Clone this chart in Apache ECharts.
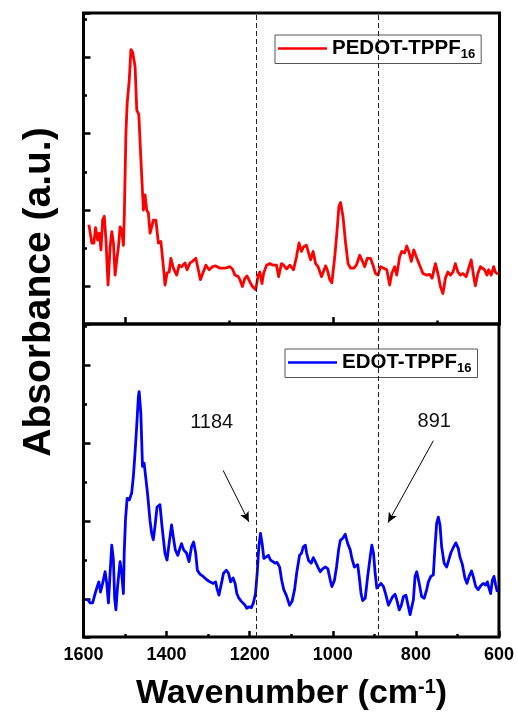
<!DOCTYPE html>
<html>
<head>
<meta charset="utf-8">
<script src="https://cdn.jsdelivr.net/npm/echarts@6/dist/echarts.min.js"></script>
<style>
  html, body { margin: 0; padding: 0; background: #ffffff; }
  #chart { width: 517px; height: 723px; }
</style>
</head>
<body>
<div id="chart"></div>
<script>
// FTIR spectra, wavenumber (cm-1) vs absorbance (arbitrary units)
const pedotWavenumber = [1587,1580,1575,1571,1566,1562,1558,1554,1550,1546,1541,1536,1532,1528,1524,1520,1516,1512,1508,1504,1502,1498,1495,1490,1486,1482,1476,1472,1467,1462,1456,1452,1448,1444,1440,1436,1432,1426,1420,1414,1408,1404,1399,1394,1390,1384,1376,1370,1364,1356,1351,1344,1338,1330,1324,1319,1312,1306,1298,1290,1282,1272,1260,1248,1242,1236,1228,1224,1218,1212,1207,1200,1194,1186,1180,1176,1171,1167,1160,1152,1144,1136,1131,1124,1119,1112,1104,1095,1088,1082,1076,1071,1064,1059,1054,1048,1042,1036,1028,1024,1018,1014,1008,1003,996,991,986,982,976,970,964,958,950,944,936,931,924,918,910,904,898,892,886,878,871,864,859,852,847,840,835,828,823,818,812,806,800,792,784,776,768,762,754,748,742,736,730,724,718,712,706,700,694,688,680,674,668,662,658,652,646,642,636,630,626,620,614,610,604];
const pedotAbsorbance = [1.81,1.57,1.57,1.77,1.61,1.70,1.48,1.87,1.92,1.61,1.02,1.52,1.72,1.57,1.15,1.35,1.52,1.78,1.74,1.54,1.91,3.01,3.40,3.70,4.10,4.07,3.88,3.31,3.25,2.66,2.00,2.20,2.00,1.96,1.70,1.68,1.87,1.87,1.57,1.59,1.26,1.02,1.18,1.19,1.37,1.24,1.15,1.28,1.26,1.31,1.22,1.31,1.33,1.37,1.22,1.09,1.19,1.28,1.22,1.26,1.27,1.24,1.24,1.26,1.23,1.15,1.13,1.09,1.00,1.11,1.14,1.06,1.00,0.96,1.15,1.19,1.04,1.17,1.28,1.30,1.28,1.28,1.13,1.30,1.28,1.23,1.28,1.22,1.39,1.57,1.46,1.52,1.54,1.44,1.35,1.46,1.30,1.26,1.13,1.11,1.27,1.22,1.09,1.05,1.39,1.70,2.05,2.10,1.91,1.57,1.30,1.24,1.24,1.28,1.41,1.35,1.26,1.37,1.37,1.28,1.17,1.15,1.26,1.24,1.22,1.02,1.17,1.26,1.15,1.39,1.46,1.44,1.53,1.46,1.33,1.48,1.39,1.28,1.17,1.15,1.16,1.11,1.30,1.17,1.00,0.91,1.11,1.19,1.15,1.19,1.30,1.19,1.15,1.17,1.13,1.24,1.35,1.13,1.01,1.17,1.26,1.28,1.22,1.15,1.22,1.15,1.26,1.19,1.16];

const edotWavenumber = [1591,1584,1578,1572,1567,1563,1559,1554,1548,1544,1540,1536,1532,1528,1525,1522,1518,1512,1508,1504,1502,1499,1495,1490,1484,1480,1476,1472,1468,1466,1462,1458,1454,1450,1446,1440,1436,1432,1428,1423,1416,1411,1404,1399,1394,1388,1384,1379,1373,1368,1364,1359,1352,1346,1340,1335,1330,1326,1320,1312,1304,1296,1288,1282,1279,1274,1268,1263,1256,1251,1246,1240,1235,1231,1226,1220,1216,1211,1207,1202,1196,1191,1186,1182,1178,1174,1170,1166,1160,1155,1150,1144,1139,1134,1128,1123,1118,1112,1107,1104,1098,1092,1087,1080,1075,1071,1066,1063,1058,1052,1047,1042,1036,1030,1024,1018,1012,1006,1002,996,991,986,982,976,970,964,958,954,948,944,940,936,932,928,922,916,910,906,902,898,894,890,884,878,872,866,862,856,850,846,840,835,830,824,820,814,811,806,802,798,792,786,780,774,770,764,758,754,750,746,742,738,732,726,722,716,710,704,698,694,688,682,677,672,666,662,656,650,644,638,632,628,624,620,616,612,608,604];
const edotAbsorbance = [1.00,0.95,0.95,1.07,1.16,1.22,1.09,1.20,1.35,1.20,0.95,1.33,1.69,1.50,1.01,0.86,1.16,1.48,1.33,1.07,1.59,2.01,2.29,2.27,2.36,2.57,2.87,3.21,3.59,3.66,3.38,2.70,2.74,2.72,2.36,2.01,1.84,1.76,1.93,2.18,2.21,1.93,1.59,1.50,1.71,1.95,1.80,1.63,1.56,1.65,1.71,1.63,1.59,1.48,1.67,1.73,1.59,1.37,1.32,1.29,1.25,1.22,1.20,1.22,1.14,1.05,1.20,1.33,1.37,1.33,1.22,1.27,1.20,1.07,1.01,0.97,0.99,0.92,0.88,0.90,0.89,0.95,1.07,1.33,1.67,1.84,1.71,1.52,1.54,1.56,1.50,1.48,1.46,1.47,1.41,1.24,1.12,1.05,0.97,0.92,0.97,1.12,1.33,1.56,1.59,1.67,1.69,1.59,1.49,1.46,1.53,1.48,1.41,1.35,1.39,1.41,1.39,1.24,1.16,1.24,1.41,1.63,1.75,1.78,1.83,1.71,1.63,1.52,1.41,1.39,1.44,1.27,1.07,0.98,1.01,1.29,1.54,1.69,1.59,1.33,1.14,1.12,1.20,1.16,1.05,0.92,0.92,1.03,1.06,0.99,0.86,0.92,1.03,1.05,0.95,0.80,0.80,0.99,1.29,1.35,1.20,1.03,1.01,1.12,1.22,1.29,1.31,1.67,1.97,2.05,1.95,1.67,1.46,1.41,1.48,1.59,1.66,1.72,1.65,1.54,1.44,1.27,1.20,1.29,1.36,1.29,1.16,1.12,1.17,1.20,1.18,1.22,1.14,1.07,1.24,1.29,1.18,1.09];

const seriesNames = ['PEDOT-TPPF16', 'EDOT-TPPF16'];
const markedBands = [1184, 891];
const bandLabels = ['1184', '891'];
// arrow start / end in (wavenumber, absorbance) of the lower panel
const arrowStarts = [[1264, 2.65], [758, 3.03]];
const arrowEnds = [[1202, 1.99], [867, 1.98]];
const wavenumberRange = [600, 1600];
const wavenumberStep = 200;

const FONT = '"Liberation Sans", Arial, Helvetica, sans-serif';

const chart = echarts.init(document.getElementById('chart'), null, { renderer: 'canvas' });

function pairs(xs, ys) { return xs.map((x, i) => [x, ys[i]]); }

const tickStyle = { color: '#000', width: 2.5 };

function yAxisFor(gridIndex, min, max) {
  return {
    gridIndex, type: 'value', min, max, splitNumber: 4,
    axisLine: { show: false },
    axisTick: { show: true, inside: true, length: 7, lineStyle: tickStyle },
    minorTick: { show: true, splitNumber: 2, length: 3.5, lineStyle: tickStyle },
    axisLabel: { show: false },
    splitLine: { show: false }
  };
}

const dashedBands = {
  silent: true,
  symbol: ['none', 'none'],
  label: { show: false },
  lineStyle: { color: '#222', width: 1, type: [5, 3] },
  emphasis: { disabled: true },
  data: markedBands.map(v => ({ xAxis: v }))
};

function legendFor(name, color, left, top) {
  return {
    data: [{ name, icon: 'rect', itemStyle: { color } }],
    left, top,
    orient: 'horizontal',
    itemWidth: 49, itemHeight: 2.6,
    padding: [3, 6, 3, 3],
    borderColor: '#555', borderWidth: 1,
    selectedMode: false,
    formatter: n => {
      const m = n.match(/^(.*?)(\d+)$/);
      return '{a|' + m[1] + '}{s|' + m[2] + '}';
    },
    textStyle: {
      rich: {
        a: { fontFamily: FONT, fontSize: 20.5, fontWeight: 'bold', color: '#000', lineHeight: 24 },
        s: { fontFamily: FONT, fontSize: 13, fontWeight: 'bold', color: '#000', lineHeight: 4, verticalAlign: 'bottom' }
      }
    }
  };
}

const option = {
  animation: false,
  backgroundColor: '#ffffff',
  grid: [
    { left: 83.5, top: 13, width: 416, height: 311, show: true, borderColor: '#000', borderWidth: 3, backgroundColor: 'transparent' },
    { left: 83.5, top: 324, width: 416, height: 313, show: true, borderColor: '#000', borderWidth: 3, backgroundColor: 'transparent' }
  ],
  xAxis: [
    {
      gridIndex: 0, type: 'value', inverse: true,
      min: wavenumberRange[0], max: wavenumberRange[1], splitNumber: 2,
      axisLine: { show: false },
      axisTick: { show: true, inside: true, length: 7, lineStyle: tickStyle },
      minorTick: { show: true, splitNumber: 2, length: 3.5, lineStyle: tickStyle },
      axisLabel: { show: false },
      splitLine: { show: false }
    },
    {
      gridIndex: 1, type: 'value', inverse: true,
      min: wavenumberRange[0], max: wavenumberRange[1], interval: wavenumberStep,
      axisLine: { show: false },
      axisTick: { show: true, inside: true, length: 6, lineStyle: tickStyle },
      minorTick: { show: true, splitNumber: 2, length: 3, lineStyle: tickStyle },
      axisLabel: {
        show: true, fontFamily: FONT, fontSize: 18, fontWeight: 'bold', color: '#000', margin: 9,
        showMinLabel: true, showMaxLabel: true, formatter: v => String(v)
      },
      splitLine: { show: false }
    }
  ],
  yAxis: [yAxisFor(0, 0.51, 4.58), yAxisFor(1, 0.513, 4.526)],
  legend: [legendFor(seriesNames[0], '#ff0000', 275, 35), legendFor(seriesNames[1], '#0000ff', 285, 349)],
  series: [
    {
      name: seriesNames[0], type: 'line', xAxisIndex: 0, yAxisIndex: 0,
      data: pairs(pedotWavenumber, pedotAbsorbance),
      symbol: 'none', showSymbol: false, color: '#ff0000',
      lineStyle: { color: '#ff0000', width: 2.8, join: 'round' },
      markLine: dashedBands
    },
    {
      name: seriesNames[1], type: 'line', xAxisIndex: 1, yAxisIndex: 1,
      data: pairs(edotWavenumber, edotAbsorbance),
      symbol: 'none', showSymbol: false, color: '#0000ff',
      lineStyle: { color: '#0000ff', width: 2.8, join: 'round' },
      markLine: dashedBands
    },
    {
      // annotation arrows pointing at the marked bands
      name: 'arrows', type: 'line', xAxisIndex: 1, yAxisIndex: 1, data: [],
      markLine: {
        silent: true,
        symbol: ['none', 'arrow'],
        symbolSize: [7, 10],
        label: { show: false },
        lineStyle: { color: '#000', width: 1, type: 'solid' },
        emphasis: { disabled: true },
        data: arrowStarts.map((s, i) => [{ coord: s }, { coord: arrowEnds[i] }])
      }
    }
  ],
  graphic: [
    {
      type: 'text', x: 39, y: 292, rotation: Math.PI / 2,
      style: { text: 'Absorbance (a.u.)', fontFamily: FONT, fontSize: 39, fontWeight: 'bold', fill: '#000', textAlign: 'center', textVerticalAlign: 'middle' }
    },
    {
      type: 'text', x: 291.5, y: 694,
      style: {
        text: 'Wavenumber (cm{sup|-1})',
        fontFamily: FONT, fontSize: 34, fontWeight: 'bold', fill: '#000', textAlign: 'center', textVerticalAlign: 'middle',
        rich: { sup: { fontFamily: FONT, fontSize: 20, fontWeight: 'bold', fill: '#000', verticalAlign: 'top', lineHeight: 20 } }
      }
    },
    {
      type: 'text', x: 211.7, y: 422,
      style: { text: bandLabels[0], fontFamily: FONT, fontSize: 20, fill: '#111', textAlign: 'center', textVerticalAlign: 'middle' }
    },
    {
      type: 'text', x: 434.3, y: 421,
      style: { text: bandLabels[1], fontFamily: FONT, fontSize: 20, fill: '#111', textAlign: 'center', textVerticalAlign: 'middle' }
    }
  ]
};

chart.setOption(option);
</script>
</body>
</html>
